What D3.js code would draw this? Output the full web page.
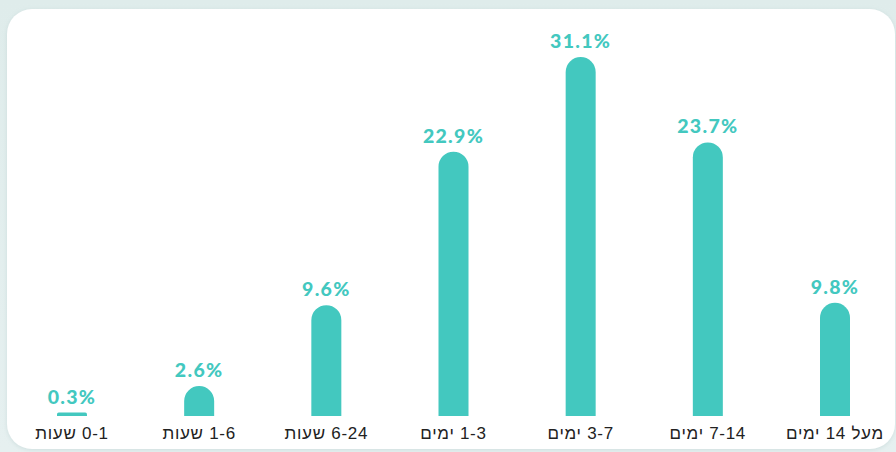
<!DOCTYPE html>
<html>
<head>
<meta charset="utf-8">
<script src="https://cdn.jsdelivr.net/npm/d3@7"></script>
<style>
  html, body { margin: 0; padding: 0; }
  body { width: 896px; height: 452px; overflow: hidden; background: linear-gradient(180deg, #dfeceb 0%, #e6f0f0 100%); }
</style>
</head>
<body>
<div id="chart"></div>
<script>
// categories (left to right) and their shares in percent
var categories = ["0-1 שעות", "1-6 שעות", "6-24 שעות", "1-3 ימים", "3-7 ימים", "7-14 ימים", "מעל 14 ימים"];
var values = [0.3, 2.6, 9.6, 22.9, 31.1, 23.7, 9.8];
var valueLabels = ["0.3%", "2.6%", "9.6%", "22.9%", "31.1%", "23.7%", "9.8%"];

var svgWidth = 896;
var svgHeight = 452;
var barColor = "#43c8bf";

var svg = d3.select("#chart")
    .append("svg")
    .attr("width", svgWidth)
    .attr("height", svgHeight);

// soft shadow under the card
var defs = svg.append("defs");
var shadow = defs.append("filter")
    .attr("id", "shadow")
    .attr("x", "-5%").attr("y", "-5%")
    .attr("width", "110%").attr("height", "110%");
shadow.append("feDropShadow")
    .attr("dx", 0).attr("dy", 1)
    .attr("stdDeviation", 2)
    .attr("flood-color", "#9fbcbc")
    .attr("flood-opacity", 0.35);

// white card
svg.append("rect")
    .attr("x", 7)
    .attr("y", 9)
    .attr("width", 888)
    .attr("height", 440)
    .attr("rx", 25)
    .attr("fill", "#ffffff")
    .attr("filter", "url(#shadow)");

var data = categories.map(function(c, i) {
    return { cat: c, value: values[i], label: valueLabels[i] };
});

// scales
var x = d3.scalePoint()
    .domain(categories)
    .range([72, 835]);

var y = d3.scaleLinear()
    .domain([0, d3.max(values)])
    .range([416, 57]);

var barWidth = 30;

// bar with rounded top
function barPath(d) {
    var cx = x(d.cat);
    var x0 = cx - barWidth / 2;
    var x1 = cx + barWidth / 2;
    var base = y(0);
    var top = y(d.value);
    var r = barWidth / 2;
    var h = base - top;
    if (h >= r) {
        return "M" + x0 + "," + base +
            "L" + x0 + "," + (top + r) +
            "A" + r + "," + r + " 0 0 1 " + x1 + "," + (top + r) +
            "L" + x1 + "," + base + "Z";
    }
    // very small bar: flat strip with soft corners
    var rr = h / 2;
    return "M" + x0 + "," + base +
        "L" + x0 + "," + (top + rr) +
        "Q" + x0 + "," + top + " " + (x0 + rr) + "," + top +
        "L" + (x1 - rr) + "," + top +
        "Q" + x1 + "," + top + " " + x1 + "," + (top + rr) +
        "L" + x1 + "," + base + "Z";
}

var chartGroup = svg.append("g");

chartGroup.selectAll(".bar")
    .data(data)
    .enter()
    .append("path")
    .attr("class", "bar")
    .attr("d", barPath)
    .attr("fill", barColor);

// value labels above bars
chartGroup.selectAll(".value")
    .data(data)
    .enter()
    .append("text")
    .attr("class", "value")
    .attr("x", d => x(d.cat))
    .attr("y", d => y(d.value) - 9)
    .attr("text-anchor", "middle")
    .style("font-family", "Lato, sans-serif")
    .style("font-weight", 900)
    .style("font-size", "19.5px")
    .style("letter-spacing", "1.3px")
    .attr("fill", barColor)
    .text(d => d.label);

// category labels (Hebrew, right to left)
chartGroup.selectAll(".cat")
    .data(data)
    .enter()
    .append("text")
    .attr("class", "cat")
    .attr("x", d => x(d.cat))
    .attr("y", 439)
    .attr("text-anchor", "middle")
    .attr("direction", "rtl")
    .style("unicode-bidi", "embed")
    .style("font-family", "'Liberation Sans', Arial, sans-serif")
    .style("font-size", "17px")
    .style("letter-spacing", "0.7px")
    .attr("fill", "#222222")
    .text(d => d.cat);
</script>
</body>
</html>
